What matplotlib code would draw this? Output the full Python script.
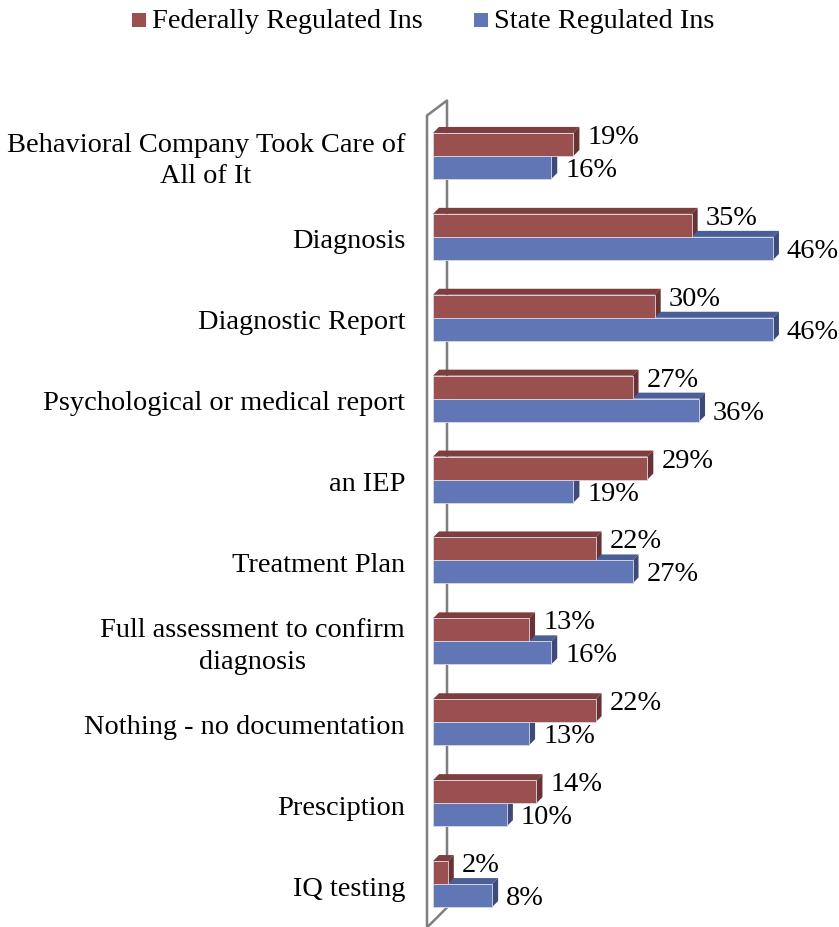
import matplotlib.pyplot as plt
from matplotlib.patches import Polygon, Rectangle

categories = [
    "Behavioral Company Took Care of\nAll of It",
    "Diagnosis",
    "Diagnostic Report",
    "Psychological or medical report",
    "an IEP",
    "Treatment Plan",
    "Full assessment to confirm\ndiagnosis",
    "Nothing - no documentation",
    "Presciption",
    "IQ testing",
]
federal = [19, 35, 30, 27, 29, 22, 13, 22, 14, 2]
state = [16, 46, 46, 36, 19, 27, 16, 13, 10, 8]
series_names = ["Federally Regulated Ins", "State Regulated Ins"]

plt.rcParams['font.family'] = ['Liberation Serif', 'DejaVu Serif']

W, H = 839, 928
fig = plt.figure(figsize=(W / 100, H / 100), dpi=100)

# pixel geometry of the plotting area
x0_px, px_per_pct = 433, 7.39
pitch = 80.9
top_px = 116.5
xmax = (W - x0_px) / px_per_pct
n = len(categories)
ax = fig.add_axes([x0_px / W, (H - top_px - n * pitch) / H,
                   (W - x0_px) / W, n * pitch / H])
ax.set_xlim(0, xmax)
ax.set_ylim(n - 0.5, -0.5)
ax.axis("off")

bar_h = 23 / pitch
dx = 6 / px_per_pct
dy = 6 / pitch

red = dict(front="#9B5050", top="#7E3E3E", side="#6A3333")
blue = dict(front="#6076B5", top="#4B5E96", side="#3D4B7B")
fs = 20.4


def bar3d(val, y0, y1, col):
    ax.add_patch(Polygon([(0, y0), (val, y0), (val + dx, y0 - dy), (dx, y0 - dy)],
                         closed=True, fc=col["top"], ec="none"))
    ax.add_patch(Polygon([(val, y0), (val + dx, y0 - dy), (val + dx, y1 - dy), (val, y1)],
                         closed=True, fc=col["side"], ec="none"))
    ax.add_patch(Rectangle((0, y0), val, y1 - y0, fc=col["front"],
                           ec="#d8d8e8", lw=0.6))


for i in range(n):
    # state bar (lower) first so the federal bar covers its top face
    bar3d(state[i], i, i + bar_h, blue)
    bar3d(federal[i], i - bar_h, i, red)
    ax.text(federal[i] + dx + 8 / px_per_pct, i - bar_h / 2 - 8 / pitch,
            f"{federal[i]}%", fontsize=fs, va="center", ha="left")
    ax.text(state[i] + dx + 8 / px_per_pct, i + bar_h / 2 + 2 / pitch,
            f"{state[i]}%", fontsize=fs, va="center", ha="left")
    ax.text(-28 / px_per_pct, i + 4 / pitch, categories[i], fontsize=fs,
            ha="right", va="center", multialignment="center", linespacing=1.35)

# back wall outline
wl, wr = -6 / px_per_pct, 14 / px_per_pct
wall = [(wl, n - 0.5 + 3 / pitch), (wl, -0.5), (wr, -0.5 - 15 / pitch),
        (wr, n - 0.5 - 17 / pitch), (wl, n - 0.5 + 3 / pitch)]
ax.plot([p[0] for p in wall], [p[1] for p in wall], color="#7f7f7f",
        lw=1.8, clip_on=False, zorder=0)

# legend
for name, col, sx in zip(series_names, [red, blue], [132, 474]):
    fig.patches.append(Rectangle((sx / W, 1 - 28 / H), 14 / W, 14 / H,
                                 transform=fig.transFigure, fc=col["front"], ec="none"))
    fig.text((sx + 20) / W, 1 - 21 / H, name, fontsize=fs, va="center", ha="left")

fig.savefig("out.png", dpi=100)
